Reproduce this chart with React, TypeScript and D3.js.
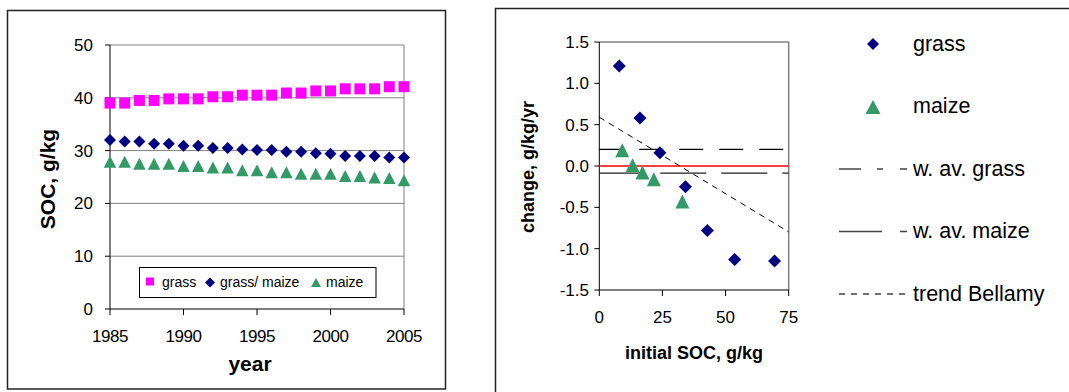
import React from "react";
import * as d3 from "d3";

const years = [1985,1986,1987,1988,1989,1990,1991,1992,1993,1994,1995,1996,1997,1998,1999,2000,2001,2002,2003,2004,2005];
const grassSOC = [39.0,39.0,39.5,39.5,39.8,39.8,39.8,40.2,40.2,40.5,40.5,40.5,40.9,40.9,41.3,41.3,41.7,41.7,41.7,42.1,42.1];
const mixedSOC = [32.0,31.7,31.7,31.3,31.3,30.9,30.9,30.5,30.5,30.2,30.1,30.1,29.8,29.8,29.5,29.4,29.0,29.0,29.0,28.7,28.7];
const maizeSOC = [27.9,27.9,27.5,27.5,27.5,27.1,27.1,26.8,26.8,26.3,26.3,25.9,25.9,25.6,25.6,25.6,25.2,25.2,24.9,24.8,24.4];
const leftYTicks = [0,10,20,30,40,50];
const leftXTicks = [1985,1990,1995,2000,2005];
const leftLegend = ["grass","grass/ maize","maize"];

const grassInit = [7.9,16.1,24.0,34.1,42.8,53.6,69.4];
const grassChange = [1.21,0.58,0.16,-0.25,-0.78,-1.13,-1.15];
const maizeInit = [9.1,13.2,17.1,21.6,32.9];
const maizeChange = [0.19,0.01,-0.08,-0.16,-0.43];
const avgGrass = 0.2;
const avgMaize = -0.085;
const trendIntercept = 0.59;
const trendSlope = -0.0185;
const rightYTicks = [1.5,1.0,0.5,0.0,-0.5,-1.0,-1.5];
const rightXTicks = [0,25,50,75];
const rightLegend = ["grass","maize","w. av. grass","w. av. maize","trend Bellamy"];

const MAGENTA = "#FF00FF";
const NAVY = "#000080";
const GREEN = "#339966";
const GRID = "#808080";
const FONT = "'Liberation Sans', Arial, sans-serif";

const diamond = (cx: number, cy: number, r: number) =>
  `M${cx},${cy - r}L${cx + r},${cy}L${cx},${cy + r}L${cx - r},${cy}Z`;
const tri = (cx: number, cy: number, w: number, h: number) =>
  `M${cx},${cy - h / 2}L${cx + w / 2},${cy + h / 2}L${cx - w / 2},${cy + h / 2}Z`;

export default function App() {
  const lx = d3.scaleLinear().domain([1985, 2005]).range([110, 404]);
  const ly = d3.scaleLinear().domain([0, 50]).range([309, 45]);
  const rx = d3.scaleLinear().domain([0, 75]).range([599.3, 788.7]);
  const ry = d3.scaleLinear().domain([-1.5, 1.5]).range([290, 42]);

  return (
    <svg width={1069} height={392} style={{ position: "absolute", left: 0, top: 0, background: "#fff" }} fontFamily={FONT}>
      <rect x={0} y={0} width={1069} height={392} fill="#fff" />
      <rect x={7.5} y={10.5} width={438} height={378.5} fill="none" stroke="#222" strokeWidth={1.5} />
      {leftYTicks.filter(t => t > 0).map(t => (
        <line key={t} x1={lx(1985)} x2={lx(2005)} y1={ly(t)} y2={ly(t)} stroke={GRID} strokeWidth={1} />
      ))}
      <line x1={lx(2005)} x2={lx(2005)} y1={ly(50)} y2={ly(0)} stroke={GRID} strokeWidth={1} />
      <line x1={lx(1985)} x2={lx(1985)} y1={ly(50)} y2={ly(0)} stroke="#000" strokeWidth={1} />
      <line x1={lx(1985)} x2={lx(2005)} y1={ly(0)} y2={ly(0)} stroke="#000" strokeWidth={1} />
      {leftYTicks.map(t => (
        <g key={t}>
          <line x1={lx(1985) - 5} x2={lx(1985)} y1={ly(t)} y2={ly(t)} stroke="#000" />
          <text x={93} y={ly(t)} dy="0.35em" textAnchor="end" fontSize={17} fill="#000">{t}</text>
        </g>
      ))}
      {leftXTicks.map(t => (
        <g key={t}>
          <line x1={lx(t)} x2={lx(t)} y1={ly(0)} y2={ly(0) + 6} stroke="#000" />
          <text x={lx(t)} y={342} textAnchor="middle" fontSize={17} fill="#000" letterSpacing={-0.5}>{t}</text>
        </g>
      ))}
      <text x={250} y={371} textAnchor="middle" fontSize={21} fontWeight="bold">year</text>
      <text transform={`translate(55,179) rotate(-90)`} textAnchor="middle" fontSize={21} fontWeight="bold">SOC, g/kg</text>
      {years.map((yr, i) => (
        <rect key={"g" + yr} x={lx(yr) - 5.5} y={ly(grassSOC[i]) - 5.5} width={11} height={11} fill={MAGENTA} />
      ))}
      {years.map((yr, i) => (
        <path key={"m" + yr} d={diamond(lx(yr), ly(mixedSOC[i]), 6)} fill={NAVY} />
      ))}
      {years.map((yr, i) => (
        <path key={"z" + yr} d={tri(lx(yr), ly(maizeSOC[i]), 12.5, 12)} fill={GREEN} />
      ))}
      <rect x={139.5} y={267.5} width={236.5} height={30} fill="#fff" stroke="#000" strokeWidth={1} />
      <rect x={146} y={277.5} width={8} height={8} fill={MAGENTA} />
      <text x={162} y={282.5} dy="0.35em" fontSize={14}>{leftLegend[0]}</text>
      <path d={diamond(210, 282.5, 5)} fill={NAVY} />
      <text x={220} y={282.5} dy="0.35em" fontSize={14}>{leftLegend[1]}</text>
      <path d={tri(316, 282.5, 10, 9)} fill={GREEN} />
      <text x={326} y={282.5} dy="0.35em" fontSize={14}>{leftLegend[2]}</text>

      <rect x={495.5} y={8.5} width={700} height={500} fill="none" stroke="#222" strokeWidth={1.5} />
      <line x1={rx(0)} x2={rx(75)} y1={ry(1.5)} y2={ry(1.5)} stroke={GRID} strokeWidth={1.5} />
      <line x1={rx(75)} x2={rx(75)} y1={ry(1.5)} y2={ry(-1.5)} stroke={GRID} strokeWidth={1.5} />
      <line x1={rx(0)} x2={rx(0)} y1={ry(1.5)} y2={ry(-1.5)} stroke="#000" strokeWidth={1} />
      <line x1={rx(0)} x2={rx(75)} y1={ry(-1.5)} y2={ry(-1.5)} stroke="#000" strokeWidth={1} />
      {rightYTicks.map(t => (
        <g key={t}>
          <line x1={rx(0) - 5} x2={rx(0)} y1={ry(t)} y2={ry(t)} stroke="#000" />
          <text x={589} y={ry(t)} dy="0.35em" textAnchor="end" fontSize={17}>{d3.format(".1f")(t).replace("−", "-")}</text>
        </g>
      ))}
      {rightXTicks.map(t => (
        <g key={t}>
          <line x1={rx(t)} x2={rx(t)} y1={ry(-1.5)} y2={ry(-1.5) + 6} stroke="#000" />
          <text x={rx(t)} y={323} textAnchor="middle" fontSize={17}>{t}</text>
        </g>
      ))}
      <text x={694} y={359} textAnchor="middle" fontSize={18} fontWeight="bold">initial SOC, g/kg</text>
      <text transform={`translate(534,167) rotate(-90)`} textAnchor="middle" fontSize={18} fontWeight="bold">change, g/kg/yr</text>
      <line x1={rx(0)} x2={rx(75)} y1={ry(0)} y2={ry(0)} stroke="#FF0000" strokeWidth={1.3} />
      <line x1={rx(0)} x2={rx(75)} y1={ry(avgGrass)} y2={ry(avgGrass)} stroke="#000" strokeWidth={1.3} strokeDasharray="24 16" />
      <line x1={rx(0)} x2={rx(75)} y1={ry(avgMaize)} y2={ry(avgMaize)} stroke="#222" strokeWidth={1.3} strokeDasharray="46 15" />
      <line x1={rx(0)} x2={rx(75)} y1={ry(trendIntercept)} y2={ry(trendIntercept + trendSlope * 75)} stroke="#000" strokeWidth={1} strokeDasharray="6 5" />
      {grassInit.map((v, i) => (
        <path key={"rg" + i} d={diamond(rx(v), ry(grassChange[i]), 6.5)} fill={NAVY} />
      ))}
      {maizeInit.map((v, i) => (
        <path key={"rm" + i} d={tri(rx(v), ry(maizeChange[i]), 14, 14)} fill={GREEN} />
      ))}
      <path d={diamond(873, 44, 6)} fill={NAVY} />
      <text x={913} y={43} dy="0.35em" fontSize={21.5}>{rightLegend[0]}</text>
      <path d={tri(873, 107, 15, 14)} fill={GREEN} />
      <text x={913} y={105} dy="0.35em" fontSize={21.5}>{rightLegend[1]}</text>
      <line x1={839} x2={907} y1={169} y2={169} stroke="#444" strokeWidth={1.3} strokeDasharray="22 16 6 17 7 100" />
      <text x={913} y={168} dy="0.35em" fontSize={21.5}>{rightLegend[2]}</text>
      <line x1={839} x2={907} y1={231.5} y2={231.5} stroke="#444" strokeWidth={1.3} strokeDasharray="43 18 7 100" />
      <text x={913} y={230} dy="0.35em" fontSize={21.5}>{rightLegend[3]}</text>
      <line x1={839} x2={907} y1={294} y2={294} stroke="#444" strokeWidth={1.3} strokeDasharray="6 6" />
      <text x={913} y={293} dy="0.35em" fontSize={21.5}>{rightLegend[4]}</text>
    </svg>
  );
}
